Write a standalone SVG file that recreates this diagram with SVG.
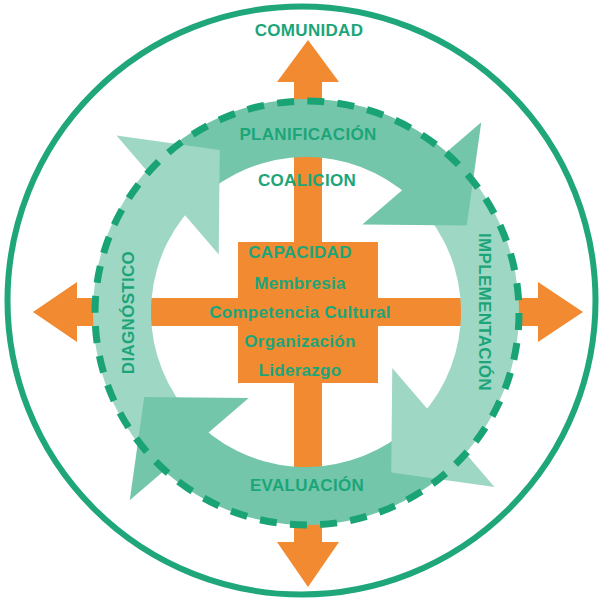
<svg xmlns="http://www.w3.org/2000/svg" width="601" height="606" viewBox="0 0 601 606">
<style>
.lbl{font-family:"Liberation Sans",Arial,sans-serif;font-weight:bold;font-size:17px;letter-spacing:0.3px;fill:#1ca578;text-anchor:middle}
.light{fill:#9fd7c5}
.med{fill:#74c6ab}
.org{fill:#f18a31}
</style>
<defs>
<polygon id="head" points="116.5,135.5 219.75,150 218.75,254.5"/>
</defs>
<rect width="601" height="606" fill="#fff"/>
<circle cx="301.5" cy="300.5" r="294" fill="none" stroke="#1fa67a" stroke-width="6"/>
<g id="cross">
<polygon class="org" points="308,40 339,82 322,82 322,542 339,542 308,587 277,542 294,542 294,82 277,82"/>
<polygon class="org" points="33,312 77,282 77,298 538,298 538,282 583,312 538,342 538,326 77,326 77,342"/>
</g>
<g id="cycle">
<path id="diag-band" class="light" d="M138.15,443.14 A213,213 0 0 1 163.48,153.71 L202.28,196.81 A155,155 0 0 0 183.86,407.43 Z"/>
<path id="plan-band" class="med" d="M174.86,144.15 A213,213 0 0 1 464.29,169.48 L421.19,208.28 A155,155 0 0 0 210.57,189.86 Z"/>
<path id="impl-band" class="light" d="M473.85,180.86 A213,213 0 0 1 448.52,470.29 L409.72,427.19 A155,155 0 0 0 428.14,216.57 Z"/>
<path id="eval-band" class="med" d="M437.14,479.85 A213,213 0 0 1 147.71,454.52 L190.81,415.72 A155,155 0 0 0 401.43,434.14 Z"/>
<use href="#head" class="light"/>
<use href="#head" class="med" transform="rotate(90 305.5 311.25)"/>
<use href="#head" class="light" transform="rotate(180 305.5 311.25)"/>
<use href="#head" class="med" transform="rotate(270 305.5 311.25)"/>
</g>
<circle cx="307" cy="313" r="212" fill="none" stroke="#1aa374" stroke-width="7" stroke-dasharray="17 13.27"/>
<g id="capacidad">
<rect class="org" x="238" y="242" width="140" height="141"/>
<text class="lbl" x="300" y="258">CAPACIDAD</text>
<text class="lbl" x="300" y="289">Membresia</text>
<text class="lbl" x="300" y="318">Competencia Cultural</text>
<text class="lbl" x="300" y="347">Organización</text>
<text class="lbl" x="300" y="376">Liderazgo</text>
</g>
<g id="labels">
<text class="lbl" x="309" y="36">COMUNIDAD</text>
<text class="lbl" x="308" y="140">PLANIFICACIÓN</text>
<text class="lbl" x="307" y="186">COALICION</text>
<text class="lbl" x="307" y="491">EVALUACIÓN</text>
<text class="lbl" transform="translate(134,312.5) rotate(-90)">DIAGNÓSTICO</text>
<text class="lbl" transform="translate(479,312) rotate(90)">IMPLEMENTACIÓN</text>
</g>
</svg>
